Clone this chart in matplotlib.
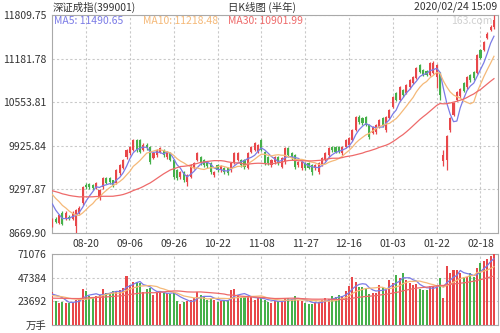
import numpy as np
import pandas as pd
import matplotlib
matplotlib.use("Agg")
import matplotlib.pyplot as plt

plt.rcParams['font.family'] = ['Noto Sans CJK SC', 'DejaVu Sans']

# ---- data: Shenzhen Component Index daily K-line, Aug 2019 - Feb 2020 ----
holidays = ['2019-09-13', '2019-10-01', '2019-10-02', '2019-10-03', '2019-10-04',
            '2019-10-07', '2020-01-01', '2020-01-24', '2020-01-27', '2020-01-28',
            '2020-01-29', '2020-01-30', '2020-01-31']
dates = pd.bdate_range('2019-08-06', '2020-02-24').difference(pd.to_datetime(holidays))

tick_labels = ['08-20', '09-06', '09-26', '10-22', '11-08',
               '11-27', '12-16', '01-03', '01-22', '02-18']

opens = [8777, 8878, 8821, 8965, 8878, 8907, 8878, 8777, 8965, 9095,
         9355, 9369, 9355, 9326, 9167, 9326, 9456, 9456, 9427, 9384,
         9528, 9600, 9759, 9817, 9860, 10005, 10005, 9860, 9933, 9904,
         9745, 9788, 9831, 9860, 9759, 9817, 9716, 9572, 9471, 9543,
         9398, 9471, 9600, 9716, 9759, 9716, 9687, 9673, 9499, 9644,
         9572, 9600, 9600, 9572, 9687, 9716, 9716, 9716, 9600, 9831,
         9860, 9831, 10005, 9831, 9759, 9644, 9687, 9759, 9615, 9687,
         9889, 9817, 9788, 9644, 9600, 9673, 9673, 9644, 9600, 9543,
         9644, 9716, 9788, 9904, 9904, 9904, 9817, 9904, 9933, 10005,
         10149, 10337, 10322, 10337, 10221, 10106, 10120, 10192, 10322, 10149,
         10322, 10481, 10684, 10582, 10727, 10684, 10770, 10828, 10900, 11088,
         11016, 11001, 10943, 10972, 10914, 10972, 9702, 9716, 10149, 10366,
         10582, 10640, 10828, 10770, 10943, 10987, 10972, 11304, 11304, 11478,
         11593, 11636]

closes = [8864, 8835, 8922, 8806, 8965, 8878, 8965, 8994, 9037, 9326,
          9326, 9326, 9312, 9384, 9283, 9456, 9384, 9398, 9355, 9572,
          9644, 9716, 9860, 9904, 10005, 9860, 9831, 9933, 9889, 9687,
          9817, 9860, 9889, 9788, 9831, 9716, 9471, 9456, 9543, 9427,
          9499, 9644, 9673, 9817, 9673, 9644, 9629, 9543, 9543, 9572,
          9629, 9543, 9528, 9673, 9817, 9817, 9644, 9615, 9817, 9904,
          9962, 9933, 9860, 9673, 9673, 9716, 9759, 9673, 9745, 9889,
          9788, 9745, 9615, 9687, 9687, 9600, 9600, 9543, 9644, 9673,
          9745, 9817, 9889, 9860, 9831, 9831, 9904, 10005, 10034, 10149,
          10337, 10265, 10250, 10221, 10048, 10192, 10221, 10294, 10221, 10337,
          10438, 10626, 10582, 10770, 10655, 10799, 10871, 10914, 11044, 10987,
          10943, 10943, 11117, 11117, 11088, 10655, 9788, 10063, 10322, 10539,
          10698, 10741, 10712, 10914, 10871, 10900, 11232, 11189, 11420, 11535,
          11637, 11738]

highs = [8890, 8900, 8940, 8985, 8985, 8930, 8985, 9010, 9060, 9340,
         9390, 9395, 9380, 9410, 9300, 9470, 9475, 9470, 9440, 9590,
         9660, 9730, 9880, 9930, 10020, 10025, 10020, 9960, 9960, 9920,
         9840, 9880, 9910, 9880, 9850, 9840, 9730, 9590, 9565, 9560,
         9520, 9660, 9695, 9835, 9780, 9735, 9705, 9690, 9565, 9660,
         9650, 9620, 9620, 9690, 9835, 9840, 9735, 9735, 9835, 9925,
         9985, 9955, 10030, 9850, 9775, 9735, 9780, 9775, 9760, 9905,
         9910, 9835, 9805, 9710, 9705, 9695, 9690, 9660, 9665, 9690,
         9765, 9835, 9905, 9925, 9925, 9920, 9920, 10025, 10050, 10165,
         10355, 10365, 10345, 10355, 10240, 10210, 10240, 10310, 10340, 10355,
         10455, 10640, 10705, 10785, 10745, 10815, 10890, 10930, 11060, 11110,
         11035, 11020, 11135, 11140, 11105, 10990, 9860, 10080, 10340, 10555,
         10715, 10760, 10850, 10930, 10960, 11005, 11250, 11325, 11440, 11560,
         11660, 11809.75]

lows = [8750, 8815, 8800, 8790, 8860, 8850, 8860, 8669.90, 8950, 9080,
        9300, 9305, 9290, 9310, 9150, 9310, 9370, 9380, 9330, 9370,
        9510, 9585, 9740, 9800, 9845, 9840, 9815, 9845, 9870, 9660,
        9730, 9770, 9815, 9770, 9740, 9700, 9450, 9430, 9450, 9410,
        9350, 9455, 9585, 9700, 9655, 9625, 9610, 9525, 9480, 9555,
        9555, 9520, 9510, 9555, 9670, 9700, 9625, 9595, 9585, 9815,
        9845, 9815, 9845, 9655, 9650, 9625, 9670, 9655, 9600, 9670,
        9770, 9725, 9595, 9620, 9580, 9580, 9585, 9499, 9580, 9525,
        9630, 9700, 9770, 9840, 9815, 9815, 9800, 9890, 9915, 9990,
        10135, 10245, 10230, 10205, 10030, 10090, 10100, 10175, 10200, 10130,
        10305, 10465, 10565, 10565, 10635, 10665, 10750, 10810, 10885, 10970,
        10925, 10925, 10925, 10955, 10756, 10582, 9629, 9572, 10130, 10350,
        10565, 10620, 10695, 10750, 10850, 10880, 10955, 11170, 11285, 11460,
        11575, 11615]

# volume, 万手
volumes = [33300, 24000, 22000, 23300, 22000, 22300, 23300, 25000, 26000, 35700,
           34300, 29000, 28300, 29000, 30000, 35700, 32300, 31700, 34300, 34300,
           35000, 36700, 49000, 40000, 43300, 43300, 42000, 33300, 35700, 37000,
           30000, 31700, 33300, 31700, 31700, 31000, 33300, 24000, 21000, 23300,
           24000, 25000, 26700, 33300, 30000, 28300, 25000, 26700, 25000, 23300,
           24000, 24000, 25000, 35000, 35700, 30000, 28300, 28300, 27700, 28300,
           25000, 26700, 26700, 25000, 23300, 22300, 24300, 24000, 23300, 26700,
           26700, 25700, 29000, 25000, 24300, 22300, 21000, 21000, 23300, 23300,
           25000, 26700, 25700, 29000, 28300, 30000, 29000, 34300, 39000, 48300,
           43300, 38300, 37700, 36700, 31000, 32300, 32300, 40000, 37700, 35000,
           45000, 42300, 50000, 46700, 52300, 45000, 42300, 40000, 40700, 35700,
           35000, 35000, 39000, 39000, 40000, 46700, 26700, 59000, 52300, 55000,
           55000, 51700, 48300, 47700, 51700, 48300, 56700, 61700, 64300, 65700,
           69000, 71076]

# sessions before the window, used only to seed the moving averages
prior_closes = [9260, 9300, 9330, 9280, 9250, 9210, 9180, 9240, 9290, 9350,
                9320, 9280, 9260, 9300, 9350, 9400, 9380, 9330, 9370, 9420,
                9400, 9380, 9360, 9330, 9330, 9280, 9240, 9100, 8960]
prior_volumes = [24000, 25000, 23000, 26000, 24500, 23500, 25500, 27000, 26000, 24000,
                 23000, 25000, 26500, 28000, 27000, 25000, 24500, 26000, 27500, 29000,
                 28000, 26500, 27000, 28500, 30000, 29000, 27500, 31000, 34000]

ma_labels = ['MA5: 11490.65', 'MA10: 11218.48', 'MA30: 10901.99']
price_top, price_bottom = 11809.75, 8669.90
vol_top = 71076

# ---- styling ----
UP = '#e8474a'
DOWN = '#45b04a'
MA_COLORS = ['#7b7be6', '#f5b978', '#ee6a6a']
GRID = '#c9c9c9'
EDGE = '#a9a9a9'
TXT = '#333333'

n = len(closes)
x = np.arange(n)
o = np.array(opens, float)
c = np.array(closes, float)
h = np.array(highs, float)
l = np.array(lows, float)
v = np.array(volumes, float)
up = c >= o
colors = np.where(up, UP, DOWN)

full_c = pd.Series(list(prior_closes) + list(closes), dtype=float)
full_v = pd.Series(list(prior_volumes) + list(volumes), dtype=float)
k = len(prior_closes)

fig = plt.figure(figsize=(5.0, 3.33), dpi=100)
fig.patch.set_facecolor('white')
ax = fig.add_axes([0.104, 0.3003, 0.892, 0.6547])
axv = fig.add_axes([0.104, 0.024, 0.892, 0.2132], sharex=ax)

tick_pos = [i for i, d in enumerate(dates) if d.strftime('%m-%d') in tick_labels]
tick_txt = [dates[i].strftime('%m-%d') for i in tick_pos]

# ---- price panel ----
ax.vlines(x, l, h, colors=colors, linewidth=0.9, zorder=3)
body_h = np.maximum(np.abs(c - o), 8)
ax.bar(x, body_h, bottom=np.minimum(o, c), width=0.62, color=colors,
       linewidth=0, zorder=4)
for win, col in zip([5, 10, 30], MA_COLORS):
    ma = full_c.rolling(win).mean().to_numpy()[k:]
    ax.plot(x, ma, color=col, linewidth=0.9, zorder=5)

yt = np.linspace(price_bottom, price_top, 6)
ax.set_ylim(price_bottom, price_top)
ax.set_yticks(yt)
ax.set_yticklabels([f'{t:.2f}' for t in yt])
ax.set_xlim(-0.1, 132.2)
ax.set_xticks(tick_pos)
ax.set_xticklabels(tick_txt)
ax.grid(True, color=GRID, linestyle=(0, (2, 2)), linewidth=0.8)
ax.set_axisbelow(True)
ax.tick_params(length=0, labelsize=7.5, colors=TXT, pad=4)
for s in ax.spines.values():
    s.set_color(EDGE)
    s.set_linewidth(0.8)

ma_x = [0.005, 0.204, 0.395]
for tx, lab, col in zip(ma_x, ma_labels, MA_COLORS):
    ax.text(tx, 0.972, lab, transform=ax.transAxes, fontsize=7.5, color=col,
            ha='left', va='center', zorder=6)
ax.text(0.988, 0.972, '163.com', transform=ax.transAxes, fontsize=7.5,
        color='#d0d0d0', ha='right', va='center', zorder=2)

# ---- volume panel ----
axv.bar(x, v, width=0.6, color=colors, linewidth=0, zorder=3)
for win, col in zip([5, 10, 30], MA_COLORS):
    mav = full_v.rolling(win).mean().to_numpy()[k:]
    axv.plot(x, mav, color=col, linewidth=0.9, zorder=4)
vt = np.linspace(0, vol_top, 4)
axv.set_ylim(0, vol_top)
axv.set_yticks(vt)
axv.set_yticklabels(['万手'] + [f'{int(round(t))}' for t in vt[1:]])
axv.grid(True, color=GRID, linestyle=(0, (2, 2)), linewidth=0.8)
axv.set_axisbelow(True)
axv.tick_params(length=0, labelsize=7.5, colors=TXT, pad=4)
axv.tick_params(axis='x', labelbottom=False)
for s in axv.spines.values():
    s.set_color(EDGE)
    s.set_linewidth(0.8)

# ---- header ----
fig.text(0.106, 0.979, '深证成指(399001)', fontsize=7.5, color=TXT, ha='left', va='center')
fig.text(0.524, 0.979, '日K线图 (半年)', fontsize=7.5, color=TXT, ha='center', va='center')
fig.text(0.994, 0.979, '2020/02/24 15:09', fontsize=7.5, color=TXT, ha='right', va='center')

fig.savefig('out.png', dpi=100, facecolor='white')
